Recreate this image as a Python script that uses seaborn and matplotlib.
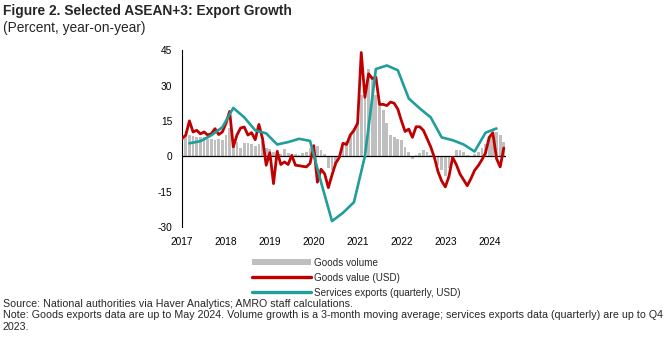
import numpy as np
import pandas as pd
import matplotlib
matplotlib.use("Agg")
import matplotlib.pyplot as plt
from matplotlib.patches import Patch
from matplotlib.lines import Line2D
import seaborn as sns

# ---------------- data ----------------
months = pd.period_range("2017-01", "2024-05", freq="M")
goods_volume = [
    6.5, 9, 9, 8.5, 8, 8, 8, 7.5, 7.5, 7, 7.5, 7,            # 2017
    9, 12, 7, 6, 3.5, 5.5, 5.5, 5, 4.5, 5, 6.5, 3.5,        # 2018
    3, 2, 2.5, 1, 3, 1.5, 0.5, 1, 0.5, 1.5, 2, 3.5,          # 2019
    4, 4.5, 2.5, 1, -5, -6, -4, 0.5, 4, 6.5, 8.5, 11,        # 2020
    14, 26, 29, 37, 33, 26, 23, 19.5, 14, 9, 8.2, 7.5,       # 2021
    7, 4, 2, -1, 0.4, 1.5, 2.5, 2, 0.5, -1, -3.5, -6,        # 2022
    -8.5, -5, -1, 2.5, 2.5, 2, 0.5, 0.3, 1, 2, 3.5, 5,       # 2023
    8, 10, 10.5, 9, 6,                                       # 2024
]
goods_value = [
    7.5, 9, 15, 10.3, 11, 9.5, 10.3, 9, 9.6, 11.7, 9.2, 10.3,     # 2017
    14, 19, 4, 9, 12, 12.4, 9, 10, 7, 13.5, 7.5, -3.8,            # 2018
    1.5, -11.6, 2, -3.5, -2.4, -3.5, 0.4, -3.8, -4, -4.3, -4.5, -3,  # 2019
    4.5, -11, -5.5, -7.5, -13.3, -8, -3, -0.5, 5.5, 5, 9, 11,     # 2020
    14, 44, 25, 35, 33, 33.5, 22, 22, 21.5, 23, 22.5, 20,         # 2021
    15, 10.5, 11.5, 8, 12.5, 12.5, 11, 7.5, 4, -0.5, -6.5, -10.5, # 2022
    -13, -8.5, -0.5, -3.5, -7.5, -10, -12.5, -9.5, -6, -4, -1.5, 1.5,  # 2023
    8, 10, -1, -4.5, 3.5,                                         # 2024
]
quarters = pd.period_range("2017Q1", "2024Q1", freq="Q")
services_exports = [
    5.5, 6.4, 8.9, 12.3,
    20.5, 16.5, 11, 9.7,
    5, 6, 7.4, 6.5,
    -11, -27.5, -24, -19.5,
    0, 37, 38.5, 36.5,
    24.5, 20.3, 16.5, 8,
    6.8, 5, 2, 10,
    11.8,
]
year_labels = ["2017", "2018", "2019", "2020", "2021", "2022", "2023", "2024"]
y_ticks = [-30, -15, 0, 15, 30, 45]

# positions on a month axis (Jan 2017 = 0)
m_x = np.array([(p.year - 2017) * 12 + p.month - 1 for p in months], dtype=float)
q_x = np.array([(p.year - 2017) * 12 + p.quarter * 3 - 1 for p in quarters], dtype=float)
year_x = [(int(y) - 2017) * 12 for y in year_labels]

RED = "#C00000"
TEAL = "#1F9E9A"
GREY = "#BFBFBF"

sns.set_theme(style="white")
plt.rcParams["font.family"] = ["Liberation Sans", "DejaVu Sans"]

fig = plt.figure(figsize=(6.72, 3.46), dpi=100)
ax = fig.add_axes([0.271, 0.344, 0.482, 0.511])

sns.barplot(x=m_x, y=goods_volume, native_scale=True, color=GREY,
            saturation=1, width=0.75, errorbar=None, ax=ax, zorder=1,
            edgecolor="none", linewidth=0)
sns.lineplot(x=m_x, y=goods_value, color=RED, lw=2.0, ax=ax, zorder=3)
sns.lineplot(x=q_x, y=services_exports, color=TEAL, lw=1.9, ax=ax, zorder=4)
ax.axhline(0, color="black", lw=0.9, zorder=2)

ax.set_xlim(0, 88.6)
ax.set_ylim(-30, 45)
ax.set_yticks(y_ticks)
ax.set_yticklabels([str(v) for v in y_ticks], fontsize=7.3)
ax.set_xticks(year_x)
ax.set_xticklabels(year_labels, fontsize=7.3)
ax.tick_params(axis="y", length=0, pad=7, colors="black")
ax.tick_params(axis="x", length=0, pad=7, colors="black")
for s in ["top", "right", "bottom"]:
    ax.spines[s].set_visible(False)
ax.spines["left"].set_color("black")
ax.spines["left"].set_linewidth(0.8)
ax.set_xlabel("")
ax.set_ylabel("")
ax.grid(False)

handles = [
    Patch(facecolor=GREY, edgecolor="none"),
    Line2D([], [], color=RED, lw=2.4),
    Line2D([], [], color=TEAL, lw=2.4),
]
labels = ["Goods volume", "Goods value (USD)", "Services exports (quarterly, USD)"]
fig.legend(handles, labels, loc="upper left", bbox_to_anchor=(0.375, 0.255),
           frameon=False, fontsize=7.1, handlelength=6.0, handleheight=0.55,
           handletextpad=0.3, labelspacing=0.5, borderaxespad=0, borderpad=0)

fig.text(0.004, 0.988, "Figure 2. Selected ASEAN+3: Export Growth",
         fontsize=9.9, fontweight="bold", va="top", ha="left")
fig.text(0.004, 0.94, "(Percent, year-on-year)", fontsize=9.9, va="top", ha="left")

foot_lines = [
    "Source: National authorities via Haver Analytics; AMRO staff calculations.",
    "Note: Goods exports data are up to May 2024. Volume growth is a 3-month moving average; "
    "services exports data (quarterly) are up to Q4",
    "2023.",
]
H = 346.0
for txt, ypx in zip(foot_lines, [304, 315.5, 327]):
    fig.text(0.004, 1 - ypx / H, txt, fontsize=7.7, va="center", ha="left")

fig.savefig("out.png", dpi=100)
